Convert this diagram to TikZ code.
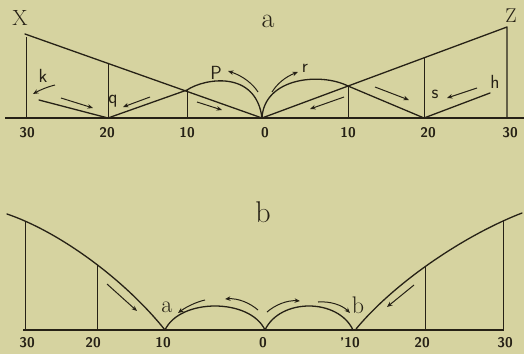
\documentclass[tikz,border=0pt]{standalone}
\usepackage{fontspec}
\usetikzlibrary{arrows.meta}
\definecolor{paper}{RGB}{214,211,160}
\definecolor{ink}{RGB}{38,33,22}
\tikzset{
  ln/.style={draw=ink, line width=1.3pt, line cap=round, line join=round},
  vline/.style={draw=ink, line width=1pt},
  base/.style={draw=ink, line width=1.7pt},
  arr/.style={draw=ink, line width=1pt, -{Stealth[length=5.5pt,width=4.5pt]}},
  num/.style={font=\sffamily\bfseries\fontsize{14}{14}\selectfont, text=ink, inner sep=0pt},
  lab/.style={font=\sffamily\fontsize{19}{19}\selectfont, text=ink, inner sep=0pt},
  big/.style={font=\fontsize{24}{24}\selectfont, text=ink, inner sep=0pt},
  title/.style={font=\fontsize{30}{30}\selectfont, text=ink, inner sep=0pt}
}
\begin{document}
\begin{tikzpicture}[x=1pt,y=-1pt]
\fill[paper] (0,0) rectangle (524,354);
\useasboundingbox (0,0) rectangle (524,354);

% ---------- diagram a ----------
\coordinate (X) at (25,34);
\coordinate (Z) at (507,27);
\coordinate (O) at (262,118);
\coordinate (L30) at (26,118);
\coordinate (L20) at (108,118);
\coordinate (L10) at (187,118);
\coordinate (R10) at (348,118);
\coordinate (R20) at (424,118);
\coordinate (R30) at (507,118);
\coordinate (L20t) at (108,63);
\coordinate (L10t) at (187,90);
\coordinate (R10t) at (348,86);
\coordinate (R20t) at (424,58);
\coordinate (wl) at (39,100);
\coordinate (wr) at (490,93);
\coordinate (aL) at (5,118);
\coordinate (aR) at (524,118);

\draw[base] (aL) -- (aR);
\draw[ln] (X) -- (O) -- (Z) -- (R30);
\draw[vline] (26,37) -- (L30);
\draw[vline] (L20t) -- (L20);
\draw[vline] (L10t) -- (L10);
\draw[vline] (R10t) -- (R10);
\draw[vline] (R20t) -- (R20);
\draw[ln] (wl) -- (L20) -- (L10t) .. controls (205,78) and (256,70) .. (O);
\draw[ln] (O) .. controls (264,78) and (320,72) .. (R10t) -- (R20) -- (wr);

\node[font=\fontsize{22}{22}\selectfont, text=ink, inner sep=0pt] (lX) at (20,18) {X};
\node[font=\fontsize{20}{20}\selectfont, text=ink, inner sep=0pt] (lZ) at (511,16) {Z};
\node[font=\fontsize{28}{28}\selectfont, text=ink, inner sep=0pt] (la) at (268,21) {a};
\node[lab] (lk) at (43,76) {k};
\node[lab] (lq) at (113,101) {q};
\node[lab] (lP) at (216,73) {P};
\node[lab] (lr) at (305,68) {r};
\node[lab] (ls) at (435,94) {s};
\node[lab] (lh) at (495,82) {h};

\coordinate (k1) at (55,85);   \coordinate (k2) at (33,94);
\coordinate (m1) at (61,98);   \coordinate (m2) at (93,108);
\coordinate (n1) at (150,97);  \coordinate (n2) at (123,107);
\coordinate (o1) at (197,102); \coordinate (o2) at (222,110);
\coordinate (p1) at (258,92);  \coordinate (p2) at (228,71);
\coordinate (r1) at (272,92);  \coordinate (r2) at (298,72);
\coordinate (t1) at (344,97);  \coordinate (t2) at (310,109);
\coordinate (u1) at (375,87);  \coordinate (u2) at (409,100);
\coordinate (v1) at (477,88);  \coordinate (v2) at (447,98);
\draw[arr] (k1) .. controls (47,87) and (40,90) .. (k2);
\draw[arr] (m1) -- (m2);
\draw[arr] (n1) -- (n2);
\draw[arr] (o1) -- (o2);
\draw[arr] (p1) .. controls (253,84) and (243,76) .. (p2);
\draw[arr] (r1) .. controls (277,84) and (285,77) .. (r2);
\draw[arr] (t1) -- (t2);
\draw[arr] (u1) -- (u2);
\draw[arr] (v1) -- (v2);

\node[num] (n30a) at (27,133) {30};
\node[num] (n20a) at (107,133) {20};
\node[num] (n10a) at (187,133) {10};
\node[num] (n0a)  at (265,133) {0};
\node[num] (n10b) at (348,133) {10};
\node[num] (n20b) at (428,133) {20};
\node[num] (n30b) at (510,133) {30};

% ---------- diagram b ----------
\coordinate (B30) at (25,330);
\coordinate (B20) at (97,330);
\coordinate (B10) at (165,330);
\coordinate (B0) at (265,330);
\coordinate (Bb10) at (353,330);
\coordinate (Bb20) at (425,330);
\coordinate (Bb30) at (503,330);
\coordinate (bL) at (23,330);
\coordinate (bR) at (504,330);
\coordinate (cl) at (7,214);
\coordinate (cr) at (522,213);
\coordinate (cs) at (356,329);

\draw[base] (bL) -- (bR);
\draw[ln] (cl) .. controls (60,232) and (125,280) .. (B10);
\draw[ln] (cs) .. controls (395,282) and (465,235) .. (cr);
\draw[ln] (B10) .. controls (180,298) and (250,298) .. (B0)
              .. controls (280,298) and (338,298) .. (Bb10);
\draw[vline] (25,222) -- (B30);
\draw[vline] (97,265) -- (B20);
\draw[vline] (425,267) -- (Bb20);
\draw[vline] (503,221) -- (Bb30);

\node[title] (lb) at (263,212) {b};
\node[big] (lba) at (167,307) {a};
\node[big] (lbb) at (358,305) {b};

\coordinate (A1) at (107,284); \coordinate (A2) at (137,311);
\coordinate (C1) at (205,300); \coordinate (C2) at (178,313);
\coordinate (D1) at (258,310); \coordinate (D2) at (225,299);
\coordinate (E1) at (267,312); \coordinate (E2) at (300,301);
\coordinate (F1) at (318,302); \coordinate (F2) at (350,313);
\coordinate (G1) at (414,285); \coordinate (G2) at (387,307);
\draw[arr] (A1) -- (A2);
\draw[arr] (C1) .. controls (196,302) and (186,307) .. (C2);
\draw[arr] (D1) .. controls (250,303) and (238,298) .. (D2);
\draw[arr] (E1) .. controls (275,305) and (287,300) .. (E2);
\draw[arr] (F1) .. controls (330,301) and (342,305) .. (F2);
\draw[arr] (G1) -- (G2);

\node[num] (m30a) at (27,343) {30};
\node[num] (m20a) at (93,343) {20};
\node[num] (m10a) at (163,343) {10};
\node[num] (m0)   at (263,343) {0};
\node[num] (m10b) at (350,343) {'10};
\node[num] (m20b) at (422,343) {20};
\node[num] (m30b) at (505,343) {30};
\end{tikzpicture}
\end{document}
